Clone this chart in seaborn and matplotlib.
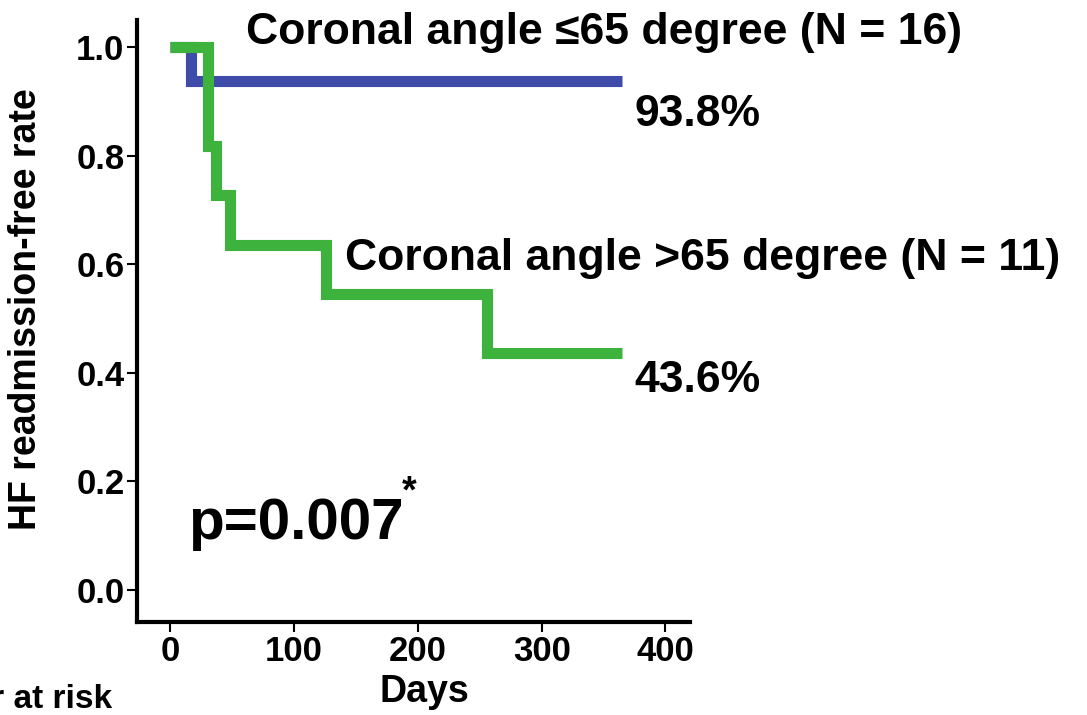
import seaborn as sns
import matplotlib.pyplot as plt
import pandas as pd

# Kaplan-Meier step values
low_days = [0, 17, 365]
low_surv = [1.0, 0.938, 0.938]

high_days = [0, 30, 37, 48, 126, 256, 365]
high_surv = [1.0, 0.818, 0.727, 0.636, 0.545, 0.436, 0.436]

group_labels = ["Coronal angle \u226465 degree (N = 16)", "Coronal angle >65 degree (N = 11)"]
end_labels = ["93.8%", "43.6%"]

x_ticks = [0, 100, 200, 300, 400]
y_ticks = [0.0, 0.2, 0.4, 0.6, 0.8, 1.0]

df = pd.concat([
    pd.DataFrame({"Days": low_days, "rate": low_surv, "group": "low"}),
    pd.DataFrame({"Days": high_days, "rate": high_surv, "group": "high"}),
])

sns.set_style("ticks")
plt.rcParams["font.family"] = ["Liberation Sans", "DejaVu Sans"]
plt.rcParams["font.weight"] = "bold"
plt.rcParams["text.color"] = "black"

fig = plt.figure(figsize=(10.87, 7.15), dpi=100)
ax = fig.add_axes([0.126, 0.130, 0.509, 0.842])

sns.lineplot(data=df, x="Days", y="rate", hue="group", palette={"low": "#3F4BA8", "high": "#3DB33D"},
             drawstyle="steps-post", linewidth=8, legend=False, ax=ax, estimator=None, sort=False,
             solid_capstyle="butt", solid_joinstyle="miter")

ax.set_xlim(-27, 420)
ax.set_ylim(-0.06, 1.05)
ax.set_xticks(x_ticks)
ax.set_yticks(y_ticks)
ax.set_yticklabels([f"{v:.1f}" for v in y_ticks])
ax.tick_params(axis="both", labelsize=25, length=7, width=1.5, direction="out", pad=2,
               colors="black", labelcolor="black")
for lab in ax.get_xticklabels() + ax.get_yticklabels():
    lab.set_fontweight("bold")

sns.despine(ax=ax)
for side in ["left", "bottom"]:
    ax.spines[side].set_linewidth(3)
    ax.spines[side].set_color("black")

ax.set_xlabel("Days", fontsize=27, fontweight="bold", color="black")
ax.xaxis.set_label_coords(0.52, -0.087)
ax.set_ylabel("HF readmission-free rate", fontsize=27, fontweight="bold", color="black")
ax.yaxis.set_label_coords(-0.168, 0.52)

# annotations
ax.text(61, 1.027, group_labels[0], fontsize=32, fontweight="bold", va="center", ha="left", clip_on=False)
ax.text(426, 0.876, end_labels[0], fontsize=32, fontweight="bold", va="center", ha="center", clip_on=False)
ax.text(141, 0.61, group_labels[1], fontsize=32, fontweight="bold", va="center", ha="left", clip_on=False)
ax.text(426, 0.385, end_labels[1], fontsize=32, fontweight="bold", va="center", ha="center", clip_on=False)
ax.text(14, 0.12, "p=0.007", fontsize=42, fontweight="bold", va="center", ha="left")
ax.text(187, 0.178, "*", fontsize=27, fontweight="bold", va="center", ha="left")

fig.text(-0.112, 0.022, "Number at risk", fontsize=24, fontweight="bold", ha="left", va="center")

fig.savefig("out.png", dpi=100)
